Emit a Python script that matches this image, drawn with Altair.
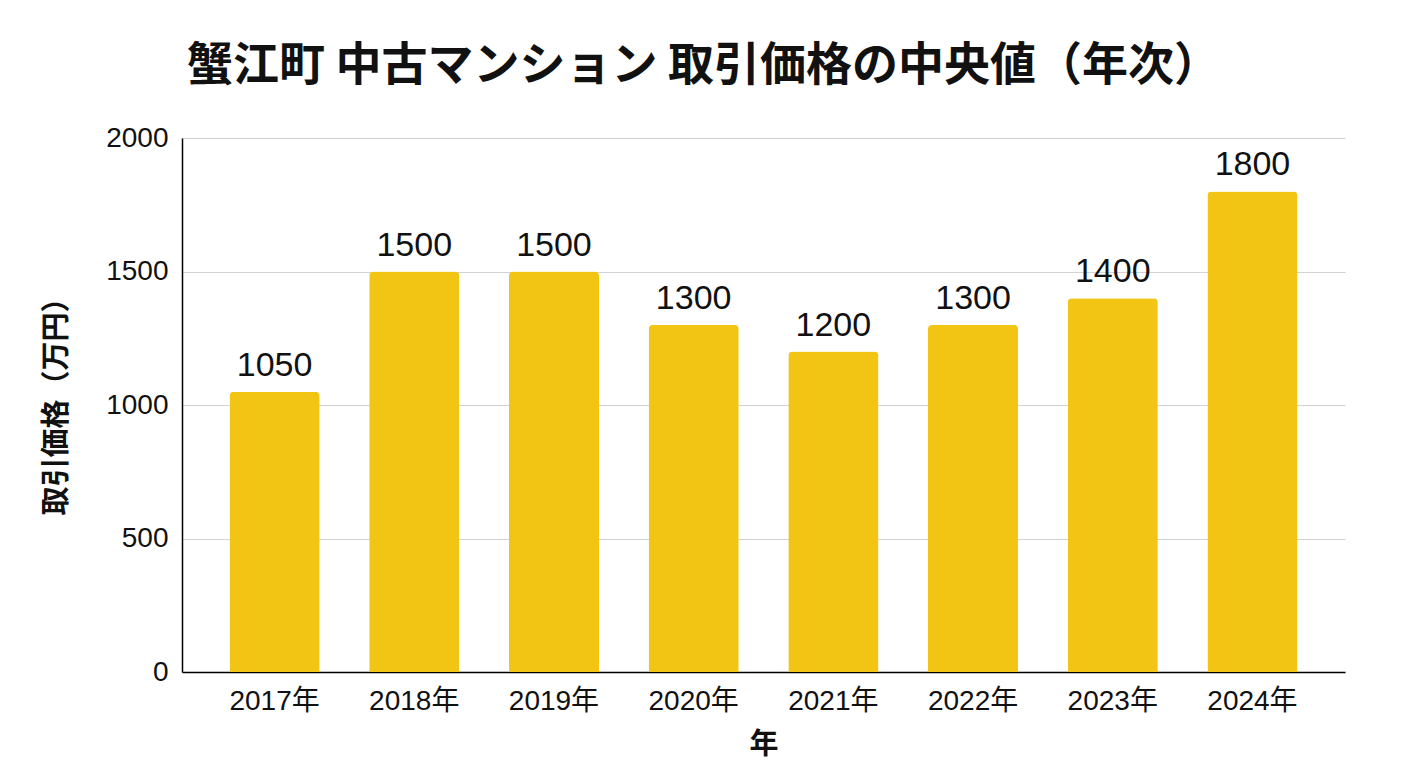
import altair as alt
import pandas as pd

years = ["2017年", "2018年", "2019年", "2020年", "2021年", "2022年", "2023年", "2024年"]
prices = [1050, 1500, 1500, 1300, 1200, 1300, 1400, 1800]
y_ticks = [0, 500, 1000, 1500, 2000]

df = pd.DataFrame({"year": years, "price": prices})

FONT = "Liberation Sans, Arial, Noto Sans CJK JP, sans-serif"
CJK = "Noto Sans CJK JP, sans-serif"

base = alt.Chart(df).encode(
    x=alt.X(
        "year:N",
        sort=None,
        scale=alt.Scale(paddingInner=0.355, paddingOuter=0.34),
        axis=alt.Axis(
            title="年",
            labelAngle=0,
            labelFont=FONT,
            labelFontSize=28,
            labelColor="#111111",
            labelPadding=15,
            ticks=False,
            domainColor="#000000",
            domainWidth=1.5,
            titleFont=CJK,
            titleFontSize=29,
            titleFontWeight="bold",
            titleColor="#111111",
            titleY=72,
            titleBaseline="middle",
        ),
    ),
    y=alt.Y(
        "price:Q",
        scale=alt.Scale(domain=[0, 2000], nice=False),
        axis=alt.Axis(
            title="取引価格（万円）",
            values=y_ticks,
            format="d",
            labelFont=FONT,
            labelFontSize=28,
            labelColor="#111111",
            labelPadding=14,
            ticks=False,
            domainColor="#000000",
            domainWidth=1.5,
            grid=True,
            gridColor="#d3d3d3",
            gridWidth=1.2,
            titleFont=CJK,
            titleFontSize=29,
            titleFontWeight="bold",
            titleColor="#111111",
            titleAngle=-90,
            titleX=-126,
            titleY=261,
            titleAlign="center",
            titleBaseline="middle",
        ),
    ),
)

bars = base.mark_bar(color="#F2C414", cornerRadiusTopLeft=4, cornerRadiusTopRight=4)
labels = base.mark_text(
    dy=-16, baseline="alphabetic", font=FONT, fontSize=34, color="#111111"
).encode(text=alt.Text("price:Q"))

chart = (
    alt.layer(bars, labels)
    .properties(
        width=1163,
        height=534,
        autosize=alt.AutoSizeParams(type="none"),
        padding={"left": 174, "top": 130, "right": 55, "bottom": 88},
        title=alt.TitleParams(
            "蟹江町 中古マンション 取引価格の中央値（年次）",
            font=CJK,
            fontSize=46,
            fontWeight="bold",
            color="#111111",
            anchor="middle",
            dx=-60,
            offset=34,
        ),
    )
    .configure_view(stroke=None)
    .configure_axis(gridDash=[])
)

chart.save("out.html", embed_options={"renderer": "svg", "actions": False})
